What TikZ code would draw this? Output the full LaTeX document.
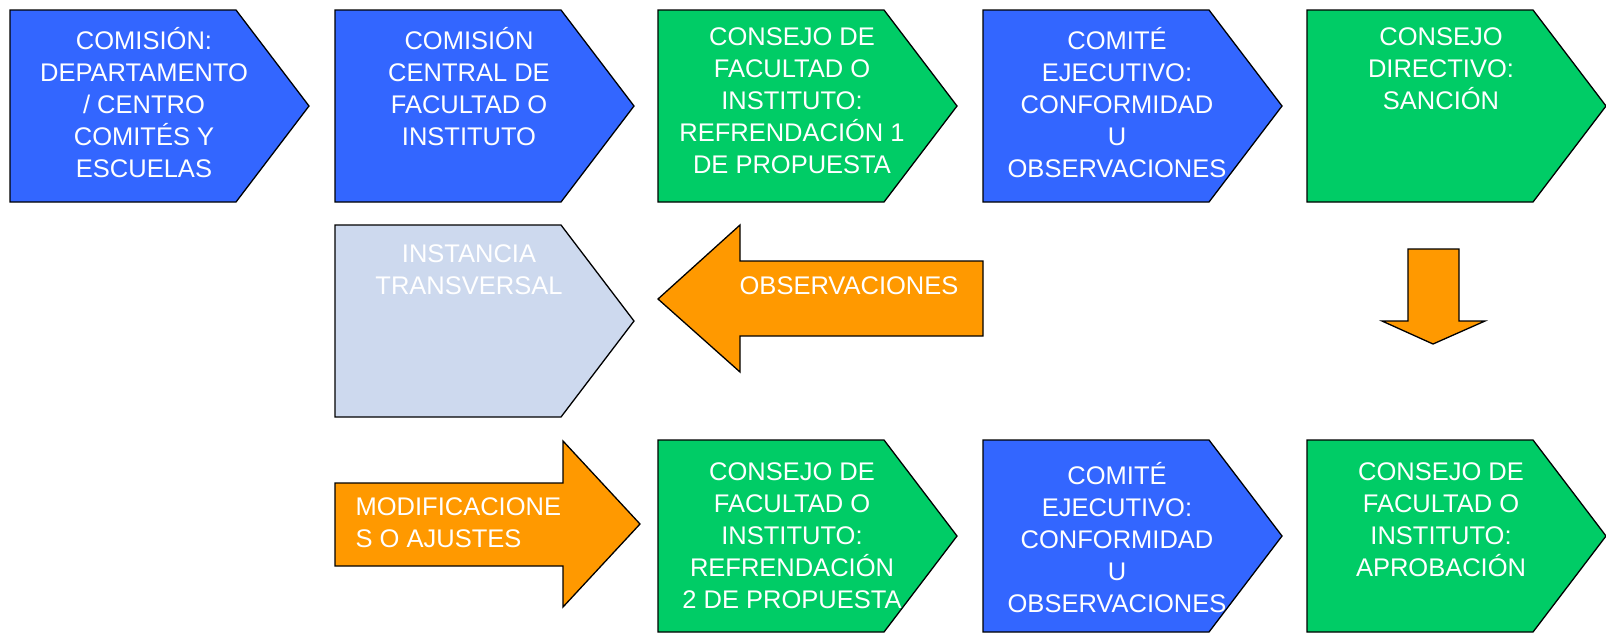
\documentclass[tikz,border=0pt]{standalone}
\usepackage{fontspec}
\setmainfont{Liberation Sans}
\usepackage{tikz}

\definecolor{azul}{RGB}{51,102,255}
\definecolor{verde}{RGB}{0,204,102}
\definecolor{naranja}{RGB}{255,153,0}
\definecolor{gris}{RGB}{205,217,238}

\begin{document}
\begin{tikzpicture}
 [x=1pt,y=-1pt,line width=1.3pt,line join=miter,
  every node/.style={text=white,align=center,inner sep=0pt,anchor=north,
   font=\fontsize{25.5}{31.9}\selectfont,
   execute at begin node={\rule{0pt}{24pt}}}]
 \useasboundingbox (0,0) rectangle (1606,633);
 % pasos del tramite: name/left/top/text offset/colour/text
 \foreach \name/\x/\y/\dy/\col/\txt in {
   c1/10/10/17/azul/{COMISIÓN:\\DEPARTAMENTO\\/ CENTRO\\COMITÉS Y\\ESCUELAS},
   c2/335/10/17/azul/{COMISIÓN\\CENTRAL DE\\FACULTAD O\\INSTITUTO},
   c3/658/10/17/verde/{CONSEJO DE\\FACULTAD O\\INSTITUTO:\\REFRENDACIÓN 1\\DE PROPUESTA},
   c4/983/10/17/azul/{COMITÉ\\EJECUTIVO:\\CONFORMIDAD\\U\\OBSERVACIONES},
   c5/1307/10/17/verde/{CONSEJO\\DIRECTIVO:\\SANCIÓN},
   it/335/225/19/gris/{INSTANCIA\\TRANSVERSAL},
   d3/658/440/22/verde/{CONSEJO DE\\FACULTAD O\\INSTITUTO:\\REFRENDACIÓN\\2 DE PROPUESTA},
   d4/983/440/22/azul/{COMITÉ\\EJECUTIVO:\\CONFORMIDAD\\U\\OBSERVACIONES},
   d5/1307/440/22/verde/{CONSEJO DE\\FACULTAD O\\INSTITUTO:\\APROBACIÓN}}
 {
  \draw[fill=\col] (\x,\y) -- ++(226,0) -- ++(73,96) -- ++(-73,96) -- ++(-226,0) -- cycle;
  \node (\name) at (\x+134,\y+\dy) {\txt};
 }
 % flechas de bloque
 \draw[fill=naranja] (983,261) -- (740,261) -- (740,225) -- (658,299)
  -- (740,372) -- (740,336) -- (983,336) -- cycle;
 \node[anchor=base] (obs) at (849,294) {OBSERVACIONES};
 \draw[fill=naranja] (1408,249) -- (1459,249) -- (1459,321) -- (1485,321)
  -- (1433,344) -- (1382,321) -- (1408,321) -- cycle;
 \draw[fill=naranja] (335,483) -- (563,483) -- (563,441) -- (640,524)
  -- (563,607) -- (563,566) -- (335,566) -- cycle;
 \node[anchor=north west,align=left] (mod) at (355,497) {MODIFICACIONE\\S O AJUSTES};
\end{tikzpicture}
\end{document}
